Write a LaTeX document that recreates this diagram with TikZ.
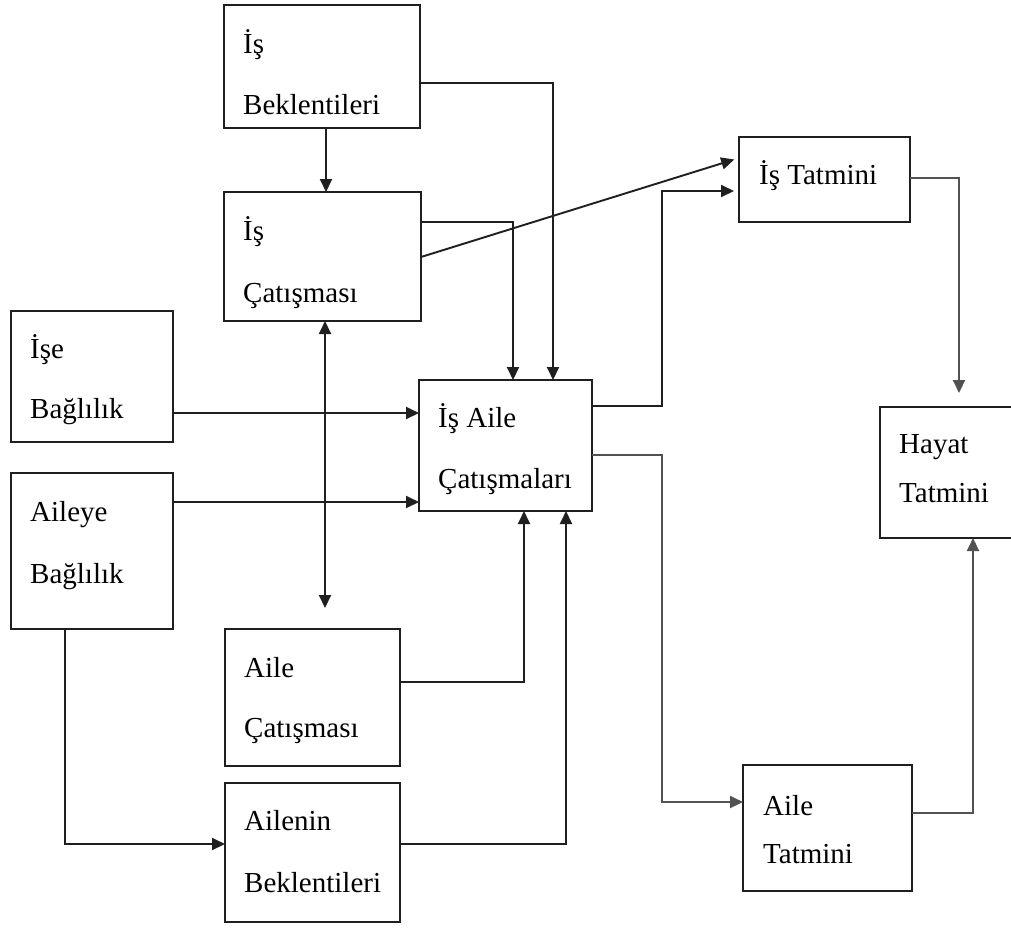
\documentclass[tikz,border=0pt]{standalone}
\usepackage{fontspec}
\setmainfont{Liberation Serif}
\usetikzlibrary{arrows.meta}
\begin{document}
\begin{tikzpicture}[x=1pt,y=-1pt,
  box/.style={draw=black!88,line width=2pt,inner sep=0pt,outer sep=0pt,rectangle},
  lbl/.style={inner sep=0pt,anchor=base west,font=\fontsize{29}{35}\selectfont,text=black},
  conn/.style={draw=black!88,line width=1.9pt},
  gconn/.style={draw=black!68,line width=2pt},
  arr/.style={-{Triangle[length=13pt,width=12pt]}},
  darr/.style={{Triangle[length=13pt,width=12pt]}-{Triangle[length=13pt,width=12pt]}}]
\clip (0,0) rectangle (1011,927);
\fill[white] (0,0) rectangle (1011,927);
% boxes
\node[box,minimum width=196pt,minimum height=123pt,anchor=north west] (ib) at (224,5) {};
\node[box,minimum width=197pt,minimum height=129pt,anchor=north west] (ic) at (224,192) {};
\node[box,minimum width=162pt,minimum height=131pt,anchor=north west] (ise) at (11,311) {};
\node[box,minimum width=162pt,minimum height=156pt,anchor=north west] (aile) at (11,473) {};
\node[box,minimum width=173pt,minimum height=131pt,anchor=north west] (ia) at (419,380) {};
\node[box,minimum width=171pt,minimum height=85pt,anchor=north west] (it) at (739,137) {};
\node[box,minimum width=140pt,minimum height=131pt,anchor=north west] (ht) at (880,407) {};
\node[box,minimum width=175pt,minimum height=137pt,anchor=north west] (ac) at (225,629) {};
\node[box,minimum width=175pt,minimum height=139pt,anchor=north west] (ab) at (225,783) {};
\node[box,minimum width=169pt,minimum height=126pt,anchor=north west] (at) at (743,765) {};
% labels
\node[lbl] (ib1) at (243,53) {İş};
\node[lbl] (ib2) at (243,114) {Beklentileri};
\node[lbl] (ic1) at (243,240) {İş};
\node[lbl] (ic2) at (243,302) {Çatışması};
\node[lbl] (ise1) at (30,358) {İşe};
\node[lbl] (ise2) at (30,418) {Bağlılık};
\node[lbl] (aile1) at (30,521) {Aileye};
\node[lbl] (aile2) at (30,583) {Bağlılık};
\node[lbl] (ia1) at (438,427) {İş Aile};
\node[lbl] (ia2) at (438,488) {Çatışmaları};
\node[lbl] (it1) at (759,184) {İş Tatmini};
\node[lbl] (ht1) at (899,453) {Hayat};
\node[lbl] (ht2) at (899,502) {Tatmini};
\node[lbl] (ac1) at (244,677) {Aile};
\node[lbl] (ac2) at (244,737) {Çatışması};
\node[lbl] (ab1) at (244,830) {Ailenin};
\node[lbl] (ab2) at (244,892) {Beklentileri};
\node[lbl] (at1) at (763,815) {Aile};
\node[lbl] (at2) at (763,863) {Tatmini};
% free ends
\coordinate (dtip) at (325,608);
\coordinate (httip) at (959,393);
% connectors
\draw[conn,arr] (ib.south -| 326,0) -- (ic.north -| 326,0);
\draw[conn,arr] (ib.east |- 0,83) -| (ia.north -| 553,0);
\draw[conn,arr] (ic.east |- 0,222) -| (ia.north -| 513,0);
\draw[conn,arr,shorten >=5pt] (ic.east |- 0,257) -- (it.west |- 0,158);
\draw[conn,arr,shorten >=5pt] (ia.east |- 0,406) -| (662,191) -- (it.west |- 0,191);
\draw[gconn,arr] (ia.east |- 0,455) -| (662,802) -- (at.west |- 0,802);
\draw[conn,arr] (ise.east |- 0,413) -- (ia.west |- 0,413);
\draw[conn,arr] (aile.east |- 0,502) -- (ia.west |- 0,502);
\draw[conn,darr] (ic.south -| dtip) -- (dtip);
\draw[conn,arr] (ac.east |- 0,682) -| (ia.south -| 524,0);
\draw[conn,arr] (ab.east |- 0,844) -| (ia.south -| 566,0);
\draw[conn,arr] (aile.south -| 65,0) |- (ab.west |- 0,844);
\draw[gconn,arr] (it.east |- 0,178) -| (httip);
\draw[gconn,arr] (at.east |- 0,813) -| (ht.south -| 973,0);
\end{tikzpicture}
\end{document}
